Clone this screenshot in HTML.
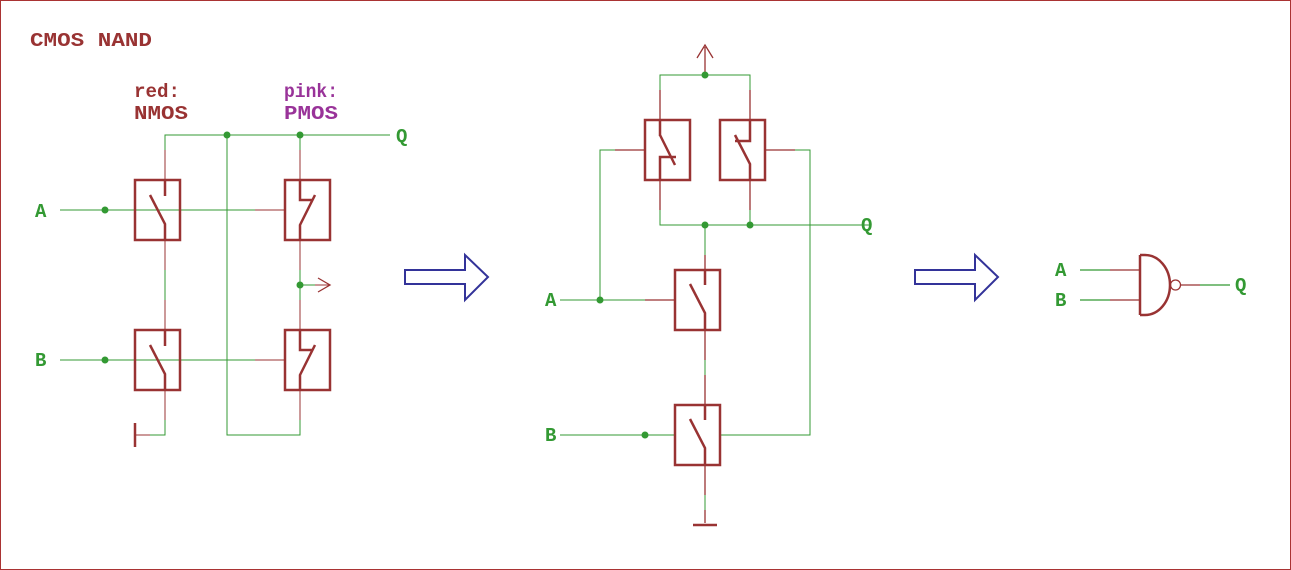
<!DOCTYPE html>
<html><head><meta charset="utf-8"><style>html,body{margin:0;padding:0;background:#fff}svg{display:block}text{font-family:"Liberation Mono",monospace;font-size:19px;font-weight:bold}</style></head><body>
<svg width="1291" height="570" viewBox="0 0 1291 570" xmlns="http://www.w3.org/2000/svg">
<rect x="0.5" y="0.5" width="1290" height="569" fill="none" stroke="#a33" stroke-width="1"/>
<g fill="none" stroke-width="1.3" shape-rendering="crispEdges">
<g stroke="#393">
<path d="M165 150V135H390"/>
<path d="M227 135V435H300V420"/>
<path d="M300 135V150"/>
<path d="M60 210H255M60 360H255"/>
<path d="M165 270V300M300 270V300M300 285H315"/>
<path d="M150 435H165V420"/>
</g>
<g stroke="#933">
<path d="M165 150V180M165 240V270M165 300V330M165 390V420"/>
<path d="M300 150V180M300 240V270M300 300V330M300 390V420"/>
<path d="M255 210H285M255 360H285"/>
<path d="M315 285H330"/>
<path d="M135 435H150"/>
</g>
</g>
<g fill="none" stroke-width="1.3">
<path d="M318 278L330 285L318 292" stroke="#933"/>
<g stroke="#933" stroke-width="2.5">
<rect x="135" y="180" width="45" height="60"/><rect x="135" y="330" width="45" height="60"/>
<rect x="285" y="180" width="45" height="60"/><rect x="285" y="330" width="45" height="60"/>
<path d="M165 180V196M150 195L165 224V240M165 330V346M150 345L165 374V390"/>
<path d="M300 180V200H313M315 195L300 225V240M300 330V350H313M315 345L300 375V390"/>
<path d="M135 423V447"/>
</g>
<g fill="#393" stroke="none">
<circle cx="227" cy="135" r="3.5"/><circle cx="300" cy="135" r="3.5"/><circle cx="300" cy="285" r="3.5"/>
<circle cx="105" cy="210" r="3.5"/><circle cx="105" cy="360" r="3.5"/>
</g>
<g stroke="#339" stroke-width="2">
<path d="M405 270H465V255L488 277L465 300V284H405Z"/>
<path d="M915 270H975V255L998 277L975 300V284H915Z"/>
</g>
<g stroke="#393" shape-rendering="crispEdges">
<path d="M660 90V75H750V90"/>
<path d="M615 150H600V300M560 300H645"/>
<path d="M795 150H810V435H720M560 435H675"/>
<path d="M660 210V225H870M750 210V225M705 225V255"/>
<path d="M705 360V375M705 495V510"/>
</g>
<g stroke="#933">
<path d="M705 75V47M697 58L705 45L713 58"/>
<path d="M660 90V120M750 90V120M660 180V210M750 180V210"/>
<path d="M615 150H645M765 150H795"/>
<path d="M705 255V270M645 300H675M705 330V360M705 375V405M705 465V495M705 510V523"/>
</g>
<g stroke="#933" stroke-width="2.5">
<rect x="645" y="120" width="45" height="60"/><rect x="720" y="120" width="45" height="60"/>
<rect x="675" y="270" width="45" height="60"/><rect x="675" y="405" width="45" height="60"/>
<path d="M660 120V136M660 135L675 165M660 180V157H676"/>
<path d="M750 120V141H735M735 135L750 164V180"/>
<path d="M705 270V285M690 284L705 313V330M705 405V420M690 419L705 448V465"/>
<path d="M693 525H717"/>
</g>
<g fill="#393" stroke="none">
<circle cx="705" cy="75" r="3.5"/><circle cx="705" cy="225" r="3.5"/><circle cx="750" cy="225" r="3.5"/>
<circle cx="600" cy="300" r="3.5"/><circle cx="645" cy="435" r="3.5"/>
</g>
<path d="M1080 270H1110M1080 300H1110M1200 285H1230" stroke="#393"/>
<path d="M1110 270H1140M1110 300H1140M1180 285H1200" stroke="#933"/>
<path d="M1140 255V315M1140 255H1145A25 30 0 0 1 1145 315H1140" stroke="#933" stroke-width="2.5"/>
<circle cx="1175.5" cy="285" r="5" stroke="#933"/>
</g>
<g>
<text x="30" y="46" fill="#933" textLength="122" lengthAdjust="spacingAndGlyphs">CMOS NAND</text>
<text x="134" y="97" fill="#933" textLength="46" lengthAdjust="spacingAndGlyphs">red:</text>
<text x="134" y="119" fill="#933" textLength="54" lengthAdjust="spacingAndGlyphs">NMOS</text>
<text x="284" y="97" fill="#939" textLength="54" lengthAdjust="spacingAndGlyphs">pink:</text>
<text x="284" y="119" fill="#939" textLength="54" lengthAdjust="spacingAndGlyphs">PMOS</text>
<g fill="#393">
<text x="396" y="142">Q</text><text x="35" y="217">A</text><text x="35" y="366">B</text>
<text x="861" y="231">Q</text><text x="545" y="306">A</text><text x="545" y="441">B</text>
<text x="1055" y="276">A</text><text x="1055" y="306">B</text><text x="1235" y="291">Q</text>
</g>
</g>
</svg>
</body></html>
